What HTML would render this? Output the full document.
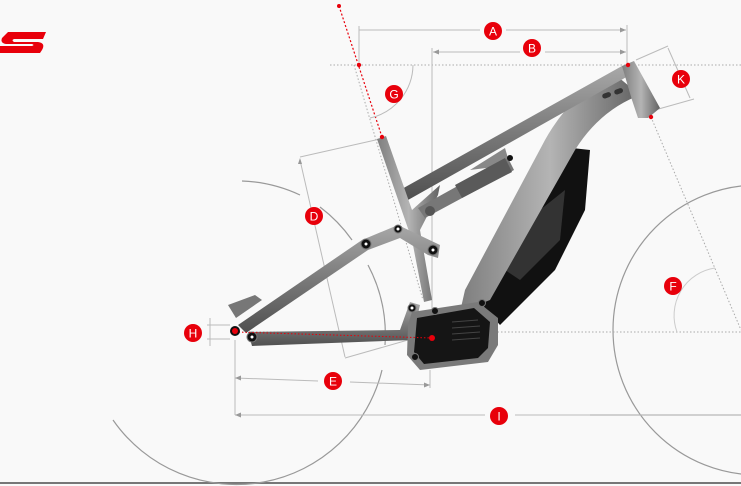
<!DOCTYPE html>
<html><head><meta charset="utf-8"><style>
html,body{margin:0;padding:0;background:#f9f9f9;}
svg{display:block}
text{font-family:"Liberation Sans",sans-serif}
</style></head><body>
<svg width="741" height="486" viewBox="0 0 741 486" xmlns="http://www.w3.org/2000/svg">
<defs>
<linearGradient id="g1" x1="0" y1="0" x2="0" y2="1"><stop offset="0" stop-color="#a8a8a8"/><stop offset="0.5" stop-color="#7a7a7a"/><stop offset="1" stop-color="#505050"/></linearGradient>
<linearGradient id="g2" x1="0" y1="0" x2="1" y2="0"><stop offset="0" stop-color="#7e7e7e"/><stop offset="0.5" stop-color="#b4b4b4"/><stop offset="1" stop-color="#626262"/></linearGradient>
</defs>
<rect width="741" height="486" fill="#f9f9f9"/>
<path d="M8 32 H46 L43 39 H14 Q11 40 14 42 H38 Q46 43 42 50 L40 53 H0 V46 H32 Q35 45 32 44 H6 Q0 43 2 38 Z" fill="#e8000b"/>
<text x="-6" y="468" font-size="22" font-style="italic" font-weight="bold" fill="#555" transform="skewX(-15)">OK</text>
<line x1="0" y1="483" x2="741" y2="483" stroke="#777" stroke-width="2"/>
<line x1="590" y1="415" x2="741" y2="415" stroke="#e6e6e6" stroke-width="2"/>
<circle cx="758" cy="330" r="145" fill="none" stroke="#999" stroke-width="1.2"/>
<path d="M242 181 A150 150 0 0 1 300 195" fill="none" stroke="#999" stroke-width="1.2"/>
<path d="M320 207 A150 150 0 0 1 352 240" fill="none" stroke="#999" stroke-width="1.2"/>
<path d="M368 265 A150 150 0 0 1 385 345" fill="none" stroke="#999" stroke-width="1.2"/>
<path d="M382 370 A150 150 0 0 1 113 420" fill="none" stroke="#999" stroke-width="1.2"/>
<line x1="330" y1="65" x2="741" y2="65" stroke="#aaa" stroke-dasharray="1.5 2"/>
<line x1="235" y1="332" x2="741" y2="332" stroke="#aaa" stroke-dasharray="1.5 2"/>
<line x1="651" y1="117" x2="741" y2="330" stroke="#aaa" stroke-dasharray="1.5 2"/>
<line x1="354" y1="65" x2="423" y2="300" stroke="#aaa" stroke-dasharray="1.5 2"/>
<line x1="339" y1="6" x2="382" y2="137" stroke="#e8000b" stroke-dasharray="2 2" stroke-width="1.2"/>
<circle cx="339" cy="6" r="2" fill="#e8000b"/><circle cx="359" cy="65" r="2.2" fill="#e8000b"/>
<path d="M413 65 A55 55 0 0 1 370 118" fill="none" stroke="#bbb"/>
<path d="M677 332 A48 48 0 0 1 715 268" fill="none" stroke="#ccc"/>
<g stroke="#bbb" fill="none">
<line x1="359" y1="30" x2="480" y2="30"/><line x1="506" y1="30" x2="626" y2="30"/>
<line x1="627" y1="25" x2="627" y2="65"/><line x1="359" y1="26" x2="359" y2="62"/>
<line x1="433" y1="52" x2="520" y2="52"/><line x1="545" y1="52" x2="626" y2="52"/>
<line x1="432" y1="48" x2="432" y2="330"/>
<line x1="636" y1="60" x2="668" y2="46"/><line x1="655" y1="110" x2="694" y2="99"/>
<line x1="668" y1="48" x2="690" y2="98"/>
<line x1="300" y1="157" x2="380" y2="139"/><line x1="300" y1="160" x2="345" y2="357"/>
<line x1="345" y1="358" x2="408" y2="340"/>
<line x1="235" y1="340" x2="235" y2="415"/>
<line x1="235" y1="378" x2="318" y2="381"/><line x1="350" y1="382" x2="430" y2="385"/>
<line x1="430" y1="370" x2="430" y2="388"/>
<line x1="235" y1="415" x2="485" y2="415"/><line x1="515" y1="415" x2="741" y2="415"/>
<line x1="207" y1="325" x2="230" y2="325"/><line x1="207" y1="339" x2="230" y2="339"/>
<line x1="210" y1="318" x2="210" y2="346"/>
</g>
<g fill="#999">
<path d="M626 30 l-6 -2.5 v5z"/><path d="M433 52 l6 -2.5 v5z"/><path d="M626 52 l-6 -2.5 v5z"/>
<path d="M235 378 l6 -2.5 v5z"/><path d="M430 385 l-6 -2.5 v5z"/><path d="M235 415 l6 -2.5 v5z"/>
<path d="M300 158 l-2 6 h4z"/>
</g>
<path d="M572 148 L590 150 L585 210 L555 270 L500 325 L478 300 L520 230 Z" fill="#111"/>
<path d="M540 210 L565 190 L560 240 L520 280 L505 270 Z" fill="#333"/>
<path d="M612 72 L640 95 Q600 110 575 150 L490 300 L460 312 L465 290 L545 140 Q570 95 612 72 Z" fill="url(#g2)"/>
<path d="M400 190 L622 66 L630 75 L408 200 Z" fill="url(#g1)"/>
<path d="M470 170 L505 148 L510 165 Z" fill="#888"/>
<path d="M622 66 L634 61 L660 108 L648 118 L638 118 L632 100 Z" fill="url(#g2)"/>
<rect x="602" y="93" width="9" height="5" rx="2.5" fill="#333" transform="rotate(-20 606 95)"/>
<rect x="614" y="89" width="9" height="5" rx="2.5" fill="#333" transform="rotate(-20 618 91)"/>
<circle cx="628" cy="65" r="2.2" fill="#e8000b"/><circle cx="651" cy="117" r="2.2" fill="#e8000b"/>
<path d="M377 139 L386 136 L412 210 L440 185 L438 195 L420 230 L432 300 L424 302 L412 240 Z" fill="url(#g2)"/>
<circle cx="382" cy="137" r="2.2" fill="#e8000b"/>
<path d="M418 208 L508 158 L514 170 L425 218 Z" fill="#777"/>
<path d="M455 185 L505 158 L512 172 L462 198 Z" fill="#5a5a5a"/>
<circle cx="430" cy="211" r="5" fill="#555"/><circle cx="510" cy="158" r="3" fill="#111"/>
<path d="M238 325 L362 240 L398 225 L440 245 L438 258 L428 255 L400 238 L368 250 L246 333 Z" fill="url(#g1)"/>
<path d="M228 305 L255 295 L262 300 L236 318 Z" fill="#777"/>
<path d="M248 332 L400 330 L410 302 L420 305 L412 340 L252 346 Z" fill="url(#g1)"/>
<path d="M412 312 L478 302 L498 318 L498 345 L488 362 L420 370 L407 355 L408 325 Z" fill="#7a7a7a"/>
<path d="M417 318 L474 308 L490 322 L488 348 L478 358 L424 364 L414 352 Z" fill="#151515"/>
<g stroke="#444" stroke-width="1"><line x1="452" y1="322" x2="478" y2="320"/><line x1="452" y1="328" x2="480" y2="326"/><line x1="452" y1="334" x2="480" y2="332"/><line x1="452" y1="340" x2="480" y2="338"/></g>
<g fill="#111" stroke="#777" stroke-width="1">
<circle cx="366" cy="244" r="5"/><circle cx="398" cy="229" r="4"/><circle cx="433" cy="250" r="5"/>
<circle cx="252" cy="337" r="5"/><circle cx="412" cy="308" r="4"/><circle cx="435" cy="311" r="3.5"/><circle cx="482" cy="303" r="3.5"/><circle cx="415" cy="357" r="3.5"/>
</g>
<g fill="#fff"><circle cx="366" cy="244" r="1.5"/><circle cx="398" cy="229" r="1.5"/><circle cx="433" cy="250" r="1.5"/><circle cx="252" cy="337" r="1.5"/><circle cx="412" cy="308" r="1.5"/></g>
<line x1="235" y1="332" x2="432" y2="338" stroke="#e8000b" stroke-dasharray="1.5 2"/>
<circle cx="235" cy="331" r="5" fill="#111"/><circle cx="235" cy="331" r="3" fill="#e8000b"/>
<circle cx="432" cy="338" r="3" fill="#e8000b"/>
<g fill="#e8000b">
<circle cx="493" cy="31" r="9"/><circle cx="532" cy="48" r="9"/><circle cx="394" cy="94" r="9"/><circle cx="314" cy="216" r="9"/>
<circle cx="681" cy="79" r="9"/><circle cx="673" cy="286" r="9"/><circle cx="193" cy="333" r="9"/><circle cx="333" cy="381" r="9"/><circle cx="499" cy="416" r="9"/>
</g>
<g fill="#fff" font-size="12" text-anchor="middle">
<text x="493" y="35.5">A</text><text x="532" y="52.5">B</text><text x="394" y="98.5">G</text><text x="314" y="220.5">D</text>
<text x="681" y="83.5">K</text><text x="673" y="290.5">F</text><text x="193" y="337.5">H</text><text x="333" y="385.5">E</text><text x="499" y="420.5">I</text>
</g>
</svg>
</body></html>
